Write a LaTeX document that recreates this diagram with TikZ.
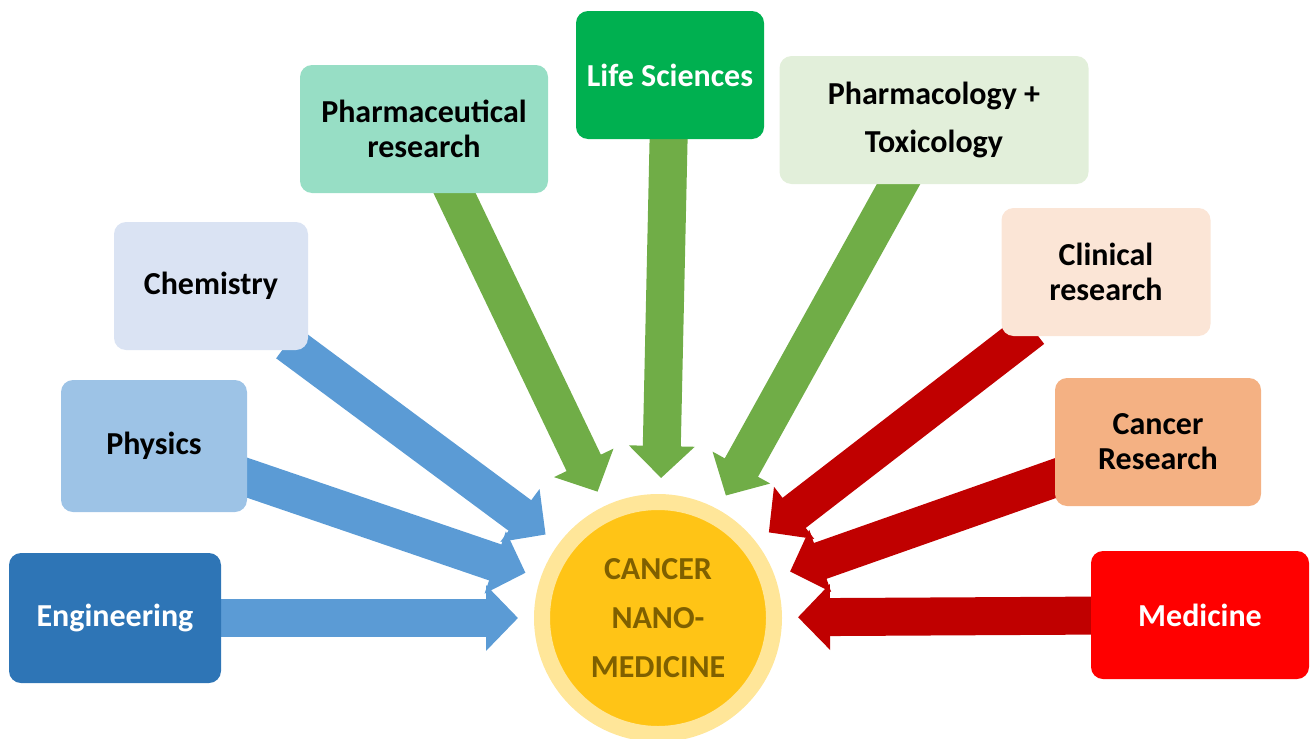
\documentclass[tikz,border=0pt]{standalone}
\usepackage{fontspec}
\setmainfont{Carlito}
\usetikzlibrary{arrows.meta,backgrounds}
\begin{document}
\begin{tikzpicture}[x=1pt,y=-1pt,
    field/.style={rounded corners=12pt, minimum height=128pt, align=center,
        font=\fontsize{32}{35}\selectfont\bfseries, inner sep=0pt},
    flow/.style={line width=38pt, draw=#1, -{Triangle[length=32pt,width=64pt]},
        shorten >=16pt, shorten <=-12pt}]
    \definecolor{cEng}{HTML}{2E75B6}
    \definecolor{cPhy}{HTML}{9DC3E6}
    \definecolor{cChe}{HTML}{DAE3F3}
    \definecolor{cPha}{HTML}{97DEC5}
    \definecolor{cLif}{HTML}{00B050}
    \definecolor{cTox}{HTML}{E2EFDA}
    \definecolor{cCli}{HTML}{FBE5D6}
    \definecolor{cCan}{HTML}{F4B183}
    \definecolor{cMed}{HTML}{FF0000}
    \definecolor{aBlue}{HTML}{5B9BD5}
    \definecolor{aGreen}{HTML}{70AD47}
    \definecolor{aRed}{HTML}{C00000}
    \definecolor{ring}{HTML}{FFE699}
    \definecolor{sun}{HTML}{FFC416}
    \definecolor{olive}{HTML}{7F6000}
    \useasboundingbox (0,0) rectangle (1310,739);
    % the centre
    \node[circle, draw=ring, line width=16pt, fill=sun, minimum size=232pt,
        align=center, text=olive, font=\fontsize{32}{49}\selectfont\bfseries]
        (core) at (658,618) {CANCER\\NANO-\\MEDICINE};
    % the fields
    \node[field, fill=cEng, text=white, minimum width=212pt, minimum height=130pt] (eng) at (115,618) {Engineering};
    \node[field, fill=cPhy, minimum width=186pt, minimum height=132pt] (phy) at (154,446) {Physics};
    \node[field, fill=cChe, minimum width=194pt] (che) at (211,286) {Chemistry};
    \node[field, fill=cPha, minimum width=248pt] (pha) at (424,129) {Pharmaceutical\\research};
    \node[field, fill=cLif, text=white, minimum width=188pt] (lif) at (670,75) {Life Sciences};
    \node[field, fill=cTox, minimum width=309pt, font=\fontsize{32}{48}\selectfont\bfseries] (tox) at (934,120) {Pharmacology +\\Toxicology};
    \node[field, fill=cCli, minimum width=209pt] (cli) at (1106,272) {Clinical\\research};
    \node[field, fill=cCan, minimum width=206pt] (can) at (1158,442) {Cancer\\Research};
    \node[field, fill=cMed, text=white, minimum width=218pt] (med) at (1200,615) {Medicine};
    % arrows behind the boxes
    \begin{scope}[on background layer]
        \draw[flow=aBlue] (eng) -- (core);
        \draw[flow=aBlue] (phy) -- (core);
        \draw[flow=aBlue] (che) -- (core);
        \draw[flow=aGreen] (pha) -- (core);
        \draw[flow=aGreen] (lif) -- (core);
        \draw[flow=aGreen] (tox) -- (core);
        \draw[flow=aRed] (cli) -- (core);
        \draw[flow=aRed] (can) -- (core);
        \draw[flow=aRed] (med) -- (core);
    \end{scope}
\end{tikzpicture}
\end{document}
